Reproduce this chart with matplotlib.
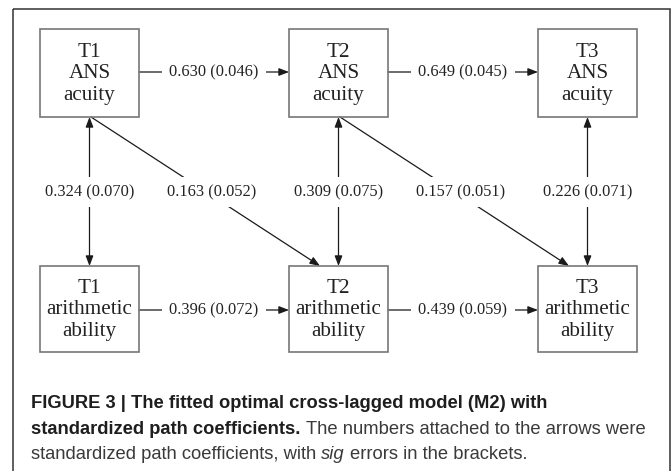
import matplotlib.pyplot as plt
from matplotlib.patches import Rectangle, FancyArrowPatch

# node labels
times = ['T1', 'T2', 'T3']
top_var = 'ANS\nacuity'
bottom_var = 'arithmetic\nability'

# standardized path coefficients (estimate, error)
ans_paths = [(0.630, 0.046), (0.649, 0.045)]
arith_paths = [(0.396, 0.072), (0.439, 0.059)]
within_paths = [(0.324, 0.070), (0.309, 0.075), (0.226, 0.071)]
cross_paths = [(0.163, 0.052), (0.157, 0.051)]

# caption runs: (text, style)
caption = [
    [('FIGURE 3 | The fitted optimal cross-lagged model (M2) with', 'bold')],
    [('standardized path coefficients.', 'bold'),
     ('The numbers attached to the arrows were', 'normal')],
    [('standardized path coefficients, with', 'normal'),
     ('sig', 'italic'),
     ('errors in the brackets.', 'normal')],
]

W, H = 672, 471
fig = plt.figure(figsize=(W / 100, H / 100), dpi=100)
ax = fig.add_axes([0, 0, 1, 1])
ax.set_xlim(0, W)
ax.set_ylim(H, 0)
ax.axis('off')

# outer frame
ax.add_patch(Rectangle((13, 9), 657, 520, fill=False, edgecolor='#333333', lw=1.1))

box_x = [40, 289, 538]
box_w = 99
top_y, top_h = 29, 88
bot_y, bot_h = 266, 86
line_c = '#1a1a1a'
serif = 'Liberation Serif'


def lab(x, y, v):
    ax.text(x, y, '%.3f (%.3f)' % v, ha='center', va='center', fontsize=11.8,
            family=serif, color='#222222', zorder=4,
            bbox=dict(boxstyle='square,pad=0.45', fc='white', ec='none'))


def arrow(p0, p1, style='-|>'):
    ax.add_patch(FancyArrowPatch(p0, p1, arrowstyle=style + ',head_length=6,head_width=2.3',
                                 mutation_scale=1, shrinkA=0, shrinkB=0,
                                 color=line_c, lw=0.9, zorder=2))


# boxes
for i, t in enumerate(times):
    ax.add_patch(Rectangle((box_x[i], top_y), box_w, top_h, fill=False,
                           edgecolor='#777777', lw=1.2, zorder=3))
    ax.add_patch(Rectangle((box_x[i], bot_y), box_w, bot_h, fill=False,
                           edgecolor='#777777', lw=1.2, zorder=3))
    cx = box_x[i] + box_w / 2
    ax.text(cx, top_y + top_h / 2 + 1, t + '\n' + top_var, ha='center', va='center',
            fontsize=15.2, family=serif, color='#222222', linespacing=1.16)
    ax.text(cx, bot_y + bot_h / 2 + 1, t + '\n' + bottom_var, ha='center', va='center',
            fontsize=15.2, family=serif, color='#222222', linespacing=1.16)

# autoregressive paths
for i in range(2):
    x0 = box_x[i] + box_w
    x1 = box_x[i + 1]
    arrow((x0, top_y + 43), (x1, top_y + 43))
    lab((x0 + x1) / 2, top_y + 43, ans_paths[i])
    arrow((x0, bot_y + 44), (x1, bot_y + 44))
    lab((x0 + x1) / 2, bot_y + 44, arith_paths[i])

# within-time correlations
for i in range(3):
    cx = box_x[i] + box_w / 2
    arrow((cx, top_y + top_h), (cx, bot_y), '<|-|>')
    lab(cx, 192, within_paths[i])

# cross-lagged paths
for i in range(2):
    p0 = (box_x[i] + box_w / 2 + 1.5, top_y + top_h)
    p1 = (box_x[i + 1] + 31, bot_y)
    arrow(p0, p1)
    lab(box_x[i] + 172, 192, cross_paths[i])

# caption with mixed styles
fig.canvas.draw()
rend = fig.canvas.get_renderer()
cap_font = 'Liberation Sans'
cap_size = 13.2


def width(s, weight, style):
    t = ax.text(0, 0, s, fontsize=cap_size, family=cap_font, weight=weight, style=style)
    w = t.get_window_extent(rend).width
    t.remove()
    return w


base_y = [408, 433.5, 459]
for line, y in zip(caption, base_y):
    x = 31
    for k, (s, st) in enumerate(line):
        weight = 'bold' if st == 'bold' else 'normal'
        style = 'italic' if st == 'italic' else 'normal'
        color = '#1e1e1e' if st == 'bold' else '#3a3a3a'
        if k > 0:
            x += (width('| |', weight, style) - width('||', weight, style))
        ax.text(x, y, s, fontsize=cap_size, family=cap_font, weight=weight,
                style=style, color=color, va='baseline', ha='left')
        x += width('|' + s + '|', weight, style) - width('||', weight, style)

fig.savefig('out.png', dpi=100)
